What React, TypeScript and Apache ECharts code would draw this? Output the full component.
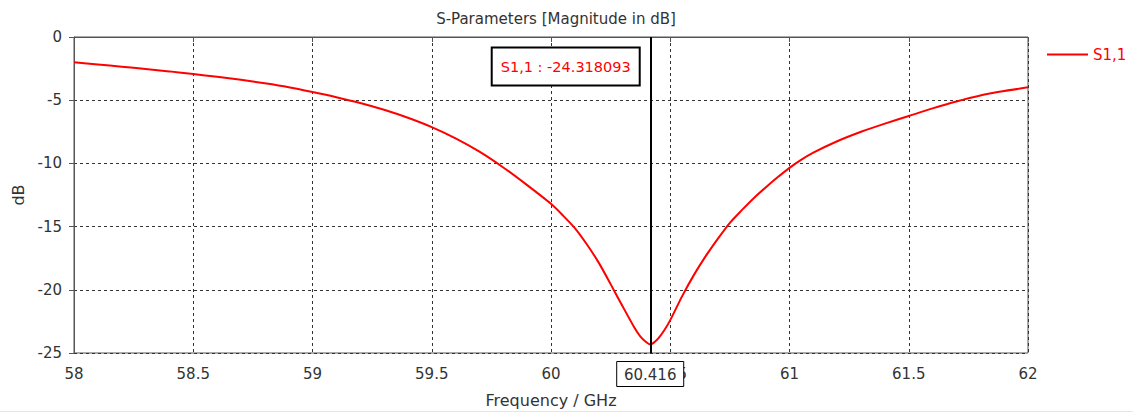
import React, { useEffect, useRef } from "react";
import * as echarts from "echarts";

const freqGHz = [
  58.0, 58.1, 58.2, 58.3, 58.4, 58.5, 58.6, 58.7, 58.8, 58.9, 59.0, 59.1, 59.2, 59.3,
  59.4, 59.5, 59.6, 59.7, 59.8, 59.9, 60.0, 60.05, 60.1, 60.15, 60.2, 60.25, 60.3,
  60.35, 60.375, 60.4, 60.416, 60.43, 60.45, 60.475, 60.5, 60.55, 60.6, 60.65, 60.7,
  60.75, 60.8, 60.85, 60.9, 60.95, 61.0, 61.05, 61.1, 61.2, 61.3, 61.4, 61.5, 61.6,
  61.7, 61.8, 61.9, 62.0,
];
const s11dB = [
  -2.0, -2.17, -2.35, -2.53, -2.72, -2.93, -3.15, -3.39, -3.66, -3.97, -4.35, -4.76,
  -5.22, -5.76, -6.39, -7.13, -8.02, -9.07, -10.32, -11.72, -13.2, -14.12, -15.12, -16.4,
  -17.85, -19.55, -21.3, -23.0, -23.7, -24.15, -24.318, -24.2, -23.85, -23.2, -22.4,
  -20.5, -18.8, -17.3, -15.95, -14.7, -13.7, -12.75, -11.9, -11.1, -10.35, -9.7, -9.15,
  -8.25, -7.5, -6.85, -6.25, -5.65, -5.1, -4.63, -4.28, -3.98,
];
const markerFreq = 60.416;
const markerValue = "-24.318093";
const seriesName = "S1,1";
const titleText = "S-Parameters [Magnitude in dB]";
const xName = "Frequency / GHz";
const yName = "dB";

const FONT = "DejaVu Sans";

export default function App() {
  const ref = useRef<HTMLDivElement>(null);
  useEffect(() => {
    document.body.style.margin = "0";
    const chart = echarts.init(ref.current!, null, { renderer: "svg" });
    const data = freqGHz.map((f, i) => [f, s11dB[i]]);
    const axisText = { color: "#333", fontFamily: FONT, fontSize: 15 };
    const nameText = { color: "#333", fontFamily: FONT, fontSize: 16 };
    chart.setOption({
      animation: false,
      backgroundColor: "#fff",
      title: {
        text: titleText,
        left: 551,
        textAlign: "center",
        top: 6,
        textStyle: { color: "#333", fontFamily: FONT, fontSize: 15, fontWeight: "normal" },
      },
      legend: {
        data: [seriesName],
        left: 1042,
        top: 42,
        icon: "rect",
        itemWidth: 41,
        itemHeight: 2,
        itemGap: 6,
        textStyle: { color: "#ff0000", fontFamily: FONT, fontSize: 15 },
      },
      grid: {
        left: 74,
        top: 37,
        right: 105,
        bottom: 60,
        outerBoundsMode: "none",
        containLabel: false,
        show: true,
        borderColor: "#555",
        borderWidth: 1,
        backgroundColor: "transparent",
      },
      xAxis: {
        type: "value",
        min: 58,
        max: 62,
        interval: 0.5,
        name: xName,
        nameLocation: "middle",
        nameGap: 39,
        nameTextStyle: nameText,
        axisLine: { lineStyle: { color: "#555", width: 1 } },
        axisTick: { show: true, length: 5, lineStyle: { color: "#555" } },
        axisLabel: { ...axisText, margin: 13 },
        splitLine: { show: true, lineStyle: { color: "#333", type: [3, 3], width: 1 } },
      },
      yAxis: {
        type: "value",
        min: -25,
        max: 0,
        interval: 5,
        name: yName,
        nameLocation: "middle",
        nameGap: 48,
        nameRotate: 90,
        nameTextStyle: nameText,
        axisLine: { show: true, lineStyle: { color: "#555", width: 1 } },
        axisTick: { show: true, length: 5, lineStyle: { color: "#555" } },
        axisLabel: { ...axisText, margin: 12 },
        splitLine: { show: true, lineStyle: { color: "#333", type: [3, 3], width: 1 } },
      },
      series: [
        {
          name: seriesName,
          type: "line",
          data,
          showSymbol: false,
          symbol: "none",
          smooth: 0.25,
          lineStyle: { color: "#ff0000", width: 2 },
          itemStyle: { color: "#ff0000" },
          markLine: {
            silent: true,
            symbol: ["none", "none"],
            label: { show: false },
            lineStyle: { color: "#000", width: 2, type: "solid" },
            data: [{ xAxis: markerFreq }],
          },
        },
      ],
    });
    const [mx] = chart.convertToPixel({ gridIndex: 0 }, [markerFreq, 0]) as number[];
    const gridBottom = 413 - 60;
    chart.setOption({
      graphic: [
        {
          type: "rect",
          shape: { x: mx - 158.5, y: 47.5, width: 148, height: 38 },
          style: { fill: "#fff", stroke: "#000", lineWidth: 2 },
          z: 100,
        },
        {
          type: "text",
          x: mx - 84.5,
          y: 66.5,
          style: {
            text: seriesName + " : " + markerValue,
            fill: "#ff0000",
            font: `14.5px "${FONT}"`,
            align: "center",
            verticalAlign: "middle",
          },
          z: 101,
        },
        {
          type: "rect",
          shape: { x: mx - 33.5, y: gridBottom + 8.5, width: 67, height: 25 },
          style: { fill: "#fff", stroke: "#000", lineWidth: 1 },
          z: 100,
        },
        {
          type: "text",
          x: mx,
          y: gridBottom + 21.5,
          style: {
            text: String(markerFreq),
            fill: "#333",
            font: `15px "${FONT}"`,
            align: "center",
            verticalAlign: "middle",
          },
          z: 101,
        },
        {
          type: "line",
          shape: { x1: 0, y1: 411.5, x2: 1133, y2: 411.5 },
          style: { stroke: "#e6e6e6", lineWidth: 1 },
        },
      ],
    });
    return () => chart.dispose();
  }, []);
  return (
    <div
      ref={ref}
      style={{ position: "fixed", left: 0, top: 0, width: 1133, height: 413 }}
    />
  );
}
